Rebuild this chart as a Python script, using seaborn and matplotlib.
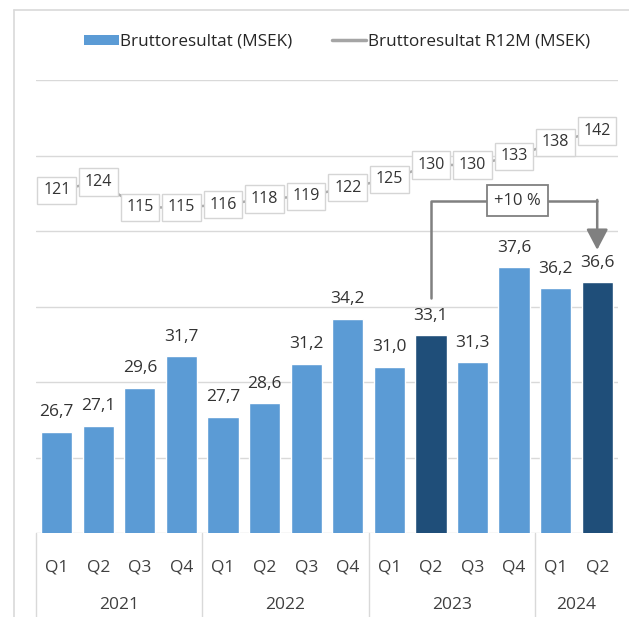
import numpy as np
import pandas as pd
import matplotlib
matplotlib.use('Agg')
import matplotlib.pyplot as plt
import seaborn as sns
from matplotlib.patches import Patch
from matplotlib.lines import Line2D

quarters = ['Q1', 'Q2', 'Q3', 'Q4', 'Q1', 'Q2', 'Q3', 'Q4', 'Q1', 'Q2', 'Q3', 'Q4', 'Q1', 'Q2']
years = ['2021', '2022', '2023', '2024']
year_sizes = [4, 4, 4, 2]
brutto = [26.7, 27.1, 29.6, 31.7, 27.7, 28.6, 31.2, 34.2, 31.0, 33.1, 31.3, 37.6, 36.2, 36.6]
r12m = [121, 124, 115, 115, 116, 118, 119, 122, 125, 130, 130, 133, 138, 142]
highlight = [9, 13]
growth_label = '+10 %'

light_blue = '#5B9BD5'
dark_blue = '#1F4E79'
line_gray = '#A5A5A5'
arrow_gray = '#808080'
grid_gray = '#D9D9D9'
text_col = '#333333'


def fmt(v):
    return '{:.1f}'.format(v).replace('.', ',')


sns.set_theme(style='white')
plt.rcParams['font.family'] = ['Open Sans', 'DejaVu Sans']

df = pd.DataFrame({'pos': np.arange(len(brutto)), 'brutto': brutto, 'r12m': r12m})
colors = [dark_blue if i in highlight else light_blue for i in range(len(brutto))]

fig = plt.figure(figsize=(6.29, 6.17), dpi=100)
ax = fig.add_axes([0.0572, 0.1361, 0.9253, 0.7342])

sns.barplot(data=df, x='pos', y='brutto', hue='pos', palette=colors, legend=False,
            width=0.75, saturation=1, ax=ax, zorder=2)
ax.set_ylim(20, 50)
ax.set_xlim(-0.5, len(brutto) - 0.5)
ax.set_yticks(np.arange(20, 51, 5))
ax.yaxis.grid(True, color=grid_gray, linewidth=1)
ax.set_axisbelow(True)
ax.set_xlabel('')
ax.set_ylabel('')
for s in ax.spines.values():
    s.set_visible(False)

for i, v in enumerate(brutto):
    ax.text(i, v + 1.3, fmt(v), ha='center', va='center', fontsize=12.5, color=text_col, zorder=5)

ax.set_xticks(np.arange(len(quarters)))
ax.set_xticklabels(quarters, fontsize=12.5, color='#404040')

# year groups below the quarters
trans = ax.get_xaxis_transform()
start = 0
edges = [-0.5]
for y, n in zip(years, year_sizes):
    ax.text(start + (n - 1) / 2, -0.158, y, ha='center', va='center', fontsize=12.5,
            color='#404040', transform=trans)
    start += n
    edges.append(start - 0.5)
for e in edges[:-1]:
    ax.plot([e, e], [0, -0.19], color=grid_gray, linewidth=1, transform=trans, clip_on=False)

# R12M line on a second axis
ax2 = ax.twinx()
sns.lineplot(data=df, x='pos', y='r12m', color=line_gray, linewidth=1.8, ax=ax2, zorder=3)
ax2.set_ylim(0, 160)
ax2.set_axis_off()
for i, v in enumerate(r12m):
    ax2.text(i, v, str(v), ha='center', va='center', fontsize=11.5, color=text_col, zorder=6,
             bbox=dict(boxstyle='square,pad=0.35', facecolor='white', edgecolor='#D5D5D5', linewidth=1))

ax.tick_params(axis='y', left=False, right=False, labelleft=False)
ax.tick_params(axis='x', bottom=False, pad=13)

# growth bracket between Q2 2023 and Q2 2024
a, b = highlight
top = 42.0
ax3 = fig.add_axes(ax.get_position(), sharex=ax)
ax3.set_ylim(20, 50)
ax3.set_axis_off()
ax3.plot([a, a, b], [brutto[a] + 2.45, top, top], color=arrow_gray, linewidth=1.8)
ax3.annotate('', xy=(b, brutto[b] + 2.15), xytext=(b, top + 0.06),
             arrowprops=dict(arrowstyle='-|>,head_width=0.55,head_length=1.05', color=arrow_gray,
                             linewidth=1.8, shrinkA=0, shrinkB=0))
ax3.text((a + b) / 2 + 0.08, top, growth_label, ha='center', va='center', fontsize=12, color=text_col,
         bbox=dict(boxstyle='square,pad=0.45', facecolor='white', edgecolor=arrow_gray, linewidth=1.3))

handles = [Patch(facecolor=light_blue, edgecolor='none'),
           Line2D([0], [0], color=line_gray, linewidth=2.5)]
fig.legend(handles, ['Bruttoresultat (MSEK)', 'Bruttoresultat R12M (MSEK)'], loc='center',
           bbox_to_anchor=(0.536, 0.932), ncol=2, frameon=False, fontsize=12.3,
           handlelength=2.0, handleheight=0.6, handletextpad=0.1, columnspacing=2.3)

# outer frame
fig.add_artist(Line2D([0.023, 0.023], [0, 0.984], color='#D9D9D9', linewidth=1.2))
fig.add_artist(Line2D([0.023, 1], [0.984, 0.984], color='#D9D9D9', linewidth=1.2))

fig.savefig('out.png', dpi=100)
